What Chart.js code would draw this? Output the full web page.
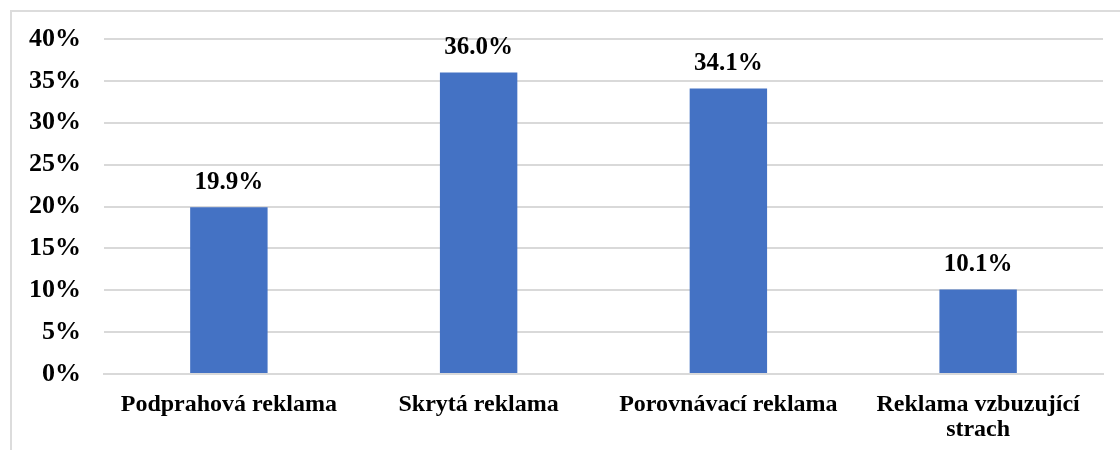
<!DOCTYPE html>
<html>
<head>
<meta charset="utf-8">
<script src="https://cdn.jsdelivr.net/npm/chart.js@4/dist/chart.umd.min.js"></script>
<style>
  html, body { margin: 0; padding: 0; background: #fff; }
  #wrap { position: relative; width: 1120px; height: 450px; overflow: hidden; }
  #frame { position: absolute; left: 10px; top: 10px; width: 1200px; height: 500px; border-left: 2px solid #dcdcdc; border-top: 2px solid #dcdcdc; }
  canvas { position: absolute; left: 0; top: 0; }
</style>
</head>
<body>
<div id="wrap">
  <div id="frame"></div>
  <canvas id="graf" width="1120" height="450"></canvas>
</div>
<script>
"use strict";
/* Datos */
const kategorie = ["Podprahová reklama", "Skrytá reklama", "Porovnávací reklama", ["Reklama vzbuzující", "strach"]];
const hodnoty = [19.9, 36.0, 34.1, 10.1];
const barva = "#4472C4";

const fontPismo = "'Liberation Serif', 'Times New Roman', serif";

/* Popisky nad sloupci */
const popiskyPlugin = {
    id: "popisky",
    afterDatasetsDraw(chart) {
        const ctx = chart.ctx;
        const meta = chart.getDatasetMeta(0);
        ctx.save();
        ctx.font = "bold 25px " + fontPismo;
        ctx.fillStyle = "#000";
        ctx.textAlign = "center";
        ctx.textBaseline = "bottom";
        meta.data.forEach((bar, i) => {
            ctx.fillText(hodnoty[i].toFixed(1) + "%", bar.x, bar.y - 12);
        });
        ctx.restore();
    }
};

new Chart(document.getElementById("graf"), {
    type: "bar",
    data: {
        labels: kategorie,
        datasets: [{
            data: hodnoty,
            backgroundColor: barva,
            borderWidth: 0,
            barPercentage: 0.62,
            categoryPercentage: 0.5
        }]
    },
    options: {
        responsive: false,
        animation: false,
        layout: { padding: { left: 0, top: 39, right: 17, bottom: 0 } },
        plugins: { legend: { display: false }, tooltip: { enabled: false } },
        scales: {
            x: {
                afterFit: s => { s.height = 76; },
                grid: { display: false },
                border: { color: "#d9d9d9", width: 2 },
                ticks: {
                    color: "#000",
                    padding: 10,
                    maxRotation: 0,
                    font: { family: fontPismo, size: 24, weight: "bold", lineHeight: 1.05 }
                }
            },
            y: {
                min: 0,
                max: 40,
                afterFit: s => { s.width = 104; },
                grid: { color: "#d9d9d9", lineWidth: 2, drawTicks: false },
                border: { display: false },
                ticks: {
                    stepSize: 5,
                    color: "#000",
                    padding: 23,
                    font: { family: fontPismo, size: 26, weight: "bold" },
                    callback: v => v + "%"
                }
            }
        }
    },
    plugins: [popiskyPlugin]
});
</script>
</body>
</html>
